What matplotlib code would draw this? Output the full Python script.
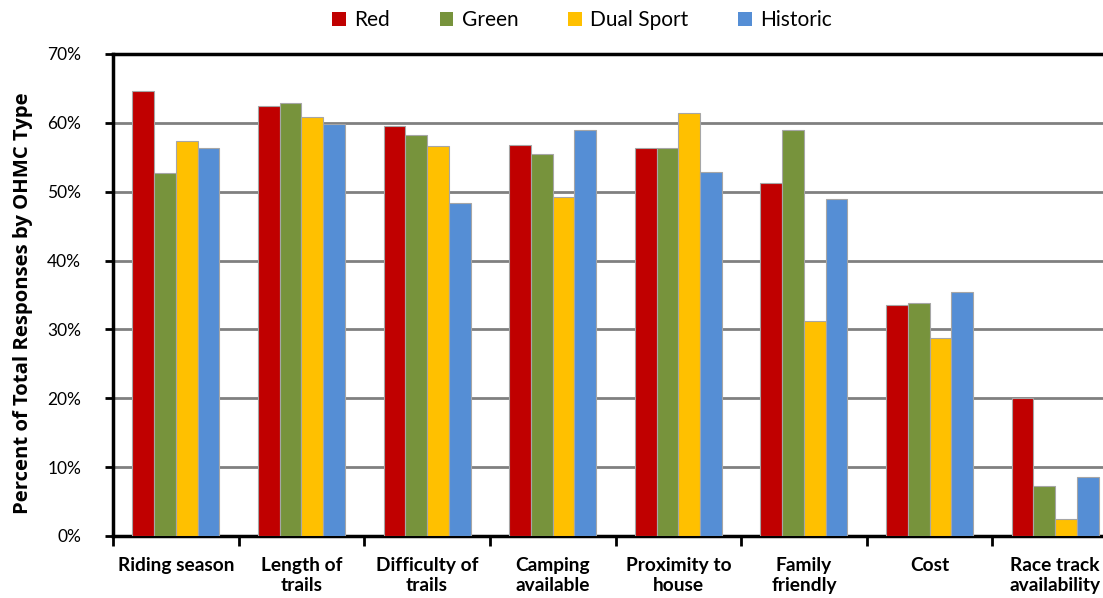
import matplotlib
matplotlib.use('Agg')
import matplotlib.pyplot as plt
from matplotlib.patches import Patch
from matplotlib.ticker import PercentFormatter
import numpy as np

# 数据
categories = ['Riding season', 'Length of\ntrails', 'Difficulty of\ntrails', 'Camping\navailable',
              'Proximity to\nhouse', 'Family\nfriendly', 'Cost', 'Race track\navailability']
series_names = ['Red', 'Green', 'Dual Sport', 'Historic']
red = [64.6, 62.5, 59.5, 56.8, 56.3, 51.2, 33.6, 20.0]
green = [52.7, 62.9, 58.3, 55.5, 56.4, 58.9, 33.8, 7.3]
dual_sport = [57.4, 60.8, 56.6, 49.3, 61.4, 31.2, 28.8, 2.4]
historic = [56.4, 59.8, 48.3, 58.9, 52.9, 49.0, 35.5, 8.6]
colors = ['#C00000', '#77933C', '#FFC000', '#558ED5']

plt.rcParams['font.family'] = ['Lato', 'DejaVu Sans']

fig = plt.figure(figsize=(11.03, 5.98), dpi=100)
# 右侧被裁掉一点
ax = fig.add_axes([113 / 1103, 1 - 536 / 598, (1118 - 113) / 1103, (536 - 54) / 598])

x = np.arange(len(categories))
w = 0.173
data = [red, green, dual_sport, historic]
for i, (vals, c) in enumerate(zip(data, colors)):
    ax.bar(x + (i - 1.5) * w, vals, width=w, color=c, edgecolor='#A6A6A6', linewidth=0.8, zorder=3)

ax.set_xlim(-0.5, len(categories) - 0.5)
ax.set_ylim(0, 70)
ax.set_yticks(range(0, 71, 10))
ax.yaxis.set_major_formatter(PercentFormatter(decimals=0))
ax.grid(axis='y', color='#808080', linewidth=2, zorder=0)

ax.set_xticks(x)
ax.set_xticklabels(categories, fontsize=13.8, fontweight='bold', linespacing=1.22)
ax.set_xticks(np.arange(-0.5, len(categories)), minor=True)
ax.tick_params(axis='x', which='major', length=0, pad=15)
ax.tick_params(axis='x', which='minor', length=7, width=2, direction='out')
ax.tick_params(axis='y', length=6, width=2, labelsize=12.5, pad=17)

for s in ['left', 'bottom', 'top']:
    ax.spines[s].set_linewidth(2.5)
    ax.spines[s].set_color('black')
ax.spines['right'].set_visible(False)

ax.set_ylabel('Percent of Total Responses by OHMC Type', family=['Open Sans', 'DejaVu Sans'],
              fontweight='bold', fontsize=14.6)
ax.yaxis.set_label_coords(-0.08, 0.483)

handles = [Patch(facecolor=c, edgecolor='none') for c in colors]
fig.legend(handles, series_names, loc='center', bbox_to_anchor=(582 / 1103, 1 - 20 / 598), ncol=4,
           frameon=False, fontsize=15, handlelength=0.65, handleheight=0.65, handletextpad=0.4,
           columnspacing=2.4)

fig.savefig('out.png', dpi=100)
